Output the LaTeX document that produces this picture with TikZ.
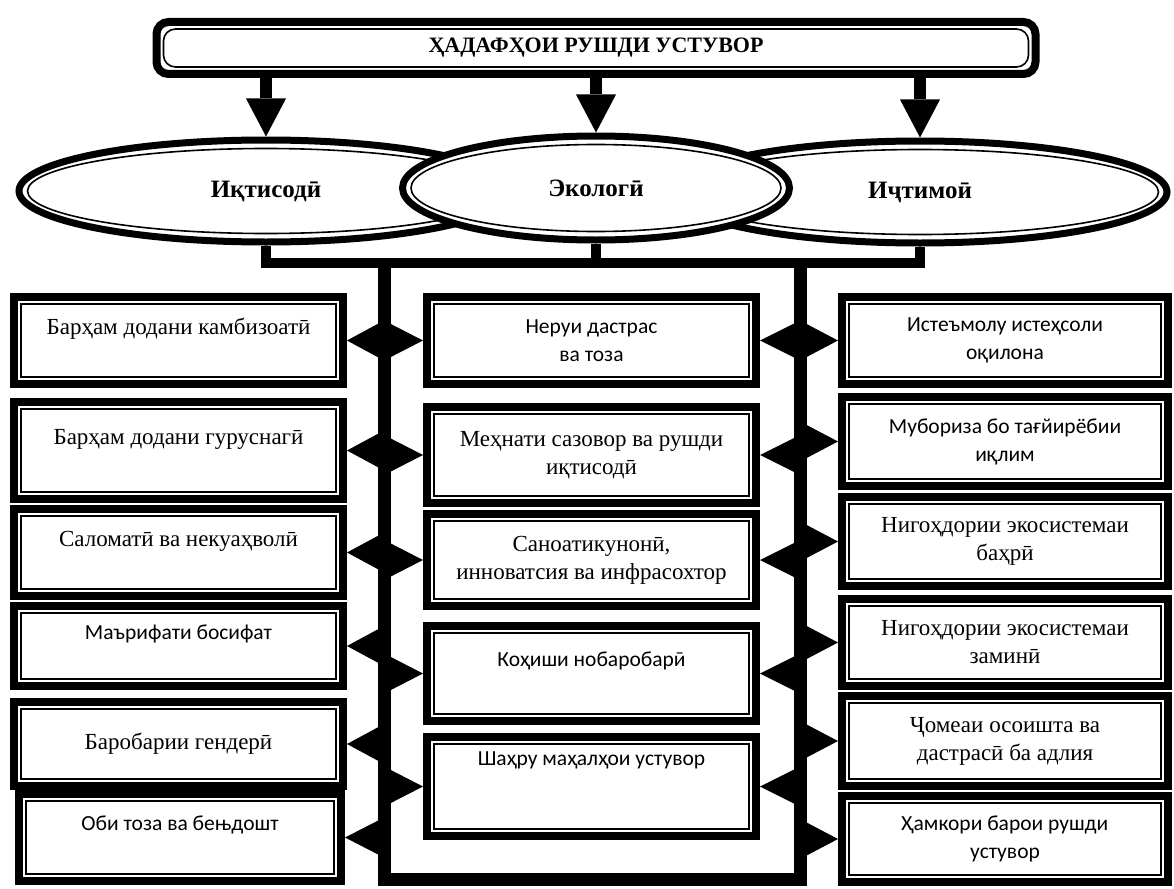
\documentclass[tikz,border=0pt]{standalone}
\usepackage{fontspec}
\setmainfont{Liberation Serif}
\newfontfamily\calib{Carlito}
\usetikzlibrary{shapes.geometric,arrows.meta,calc}

\tikzset{
  goal/.style={draw, line width=8pt, fill=white, align=center, inner sep=2pt,
    font=\fontsize{23}{28}\selectfont,
    path picture={\draw[line width=1.6pt] ([shift={(7pt,7pt)}]path picture bounding box.south west) rectangle ([shift={(-7pt,-7pt)}]path picture bounding box.north east);}},
  lcol/.style={goal, minimum width=329},
  mcol/.style={goal, minimum width=329},
  rcol/.style={goal, minimum width=326},
  sans/.style={font=\calib\fontsize{21.5}{28}\selectfont},
  oval/.style 2 args={ellipse, draw, line width=7pt, fill=white, minimum width=#1, minimum height=#2, inner sep=0pt,
    font=\bfseries\fontsize{25}{30}\selectfont,
    path picture={\draw[line width=1.6pt] (path picture bounding box.center) ellipse [x radius=#1/2-8.5, y radius=#2/2-8.5];}},
  feed/.style={line width=12pt, -{Triangle[length=38pt,width=40pt,line width=0pt]}},
  wire/.style={line width=10pt},
  trunk/.style={line width=13pt},
}

\begin{document}
\begin{tikzpicture}[x=1pt, y=-1pt]
  \useasboundingbox (0,0) rectangle (1174,888);

  % title
  \node [goal, rounded corners=12pt, minimum width=879, minimum height=52, font=\bfseries\fontsize{22}{26}\selectfont] (top) at (596,48) {ҲАДАФҲОИ РУШДИ УСТУВОР};

  % three dimensions
  \node [oval={494}{102}] (ik) at (266,191) {Иқтисодӣ};
  \node [oval={494}{102}] (ic) at (920,192) {Иҷтимоӣ};
  \node [oval={387}{104}] (ek) at (596,188) {Экологӣ};

  \foreach \e in {ik,ek,ic}
    \draw [feed] (top.south -| \e.north) -- (\e.north);

  % bus and trunks
  \coordinate (busl) at (266,263);
  \coordinate (busr) at (920,263);
  \draw [wire] (ik.south) -- (busl) -- (busr) -- (ic.south);
  \draw [wire] (ek.south) -- (ek.south |- busl);

  \coordinate (trl) at (384,263);
  \coordinate (trr) at (800,263);
  \coordinate (botl) at (384,879);
  \coordinate (botr) at (800,879);
  \draw [trunk] (trl) -- (botl) -- (botr) -- (trr);

  % left column
  \node [lcol, minimum height=87] (l1) at (178.5,340.5) {Барҳам додани камбизоатӣ\\\mbox{}};
  \node [lcol, minimum height=97] (l2) at (178.5,450.5) {Барҳам додани гуруснагӣ\\\mbox{}};
  \node [lcol, minimum height=87] (l3) at (178.5,552.5) {Саломатӣ ва некуаҳволӣ\\\mbox{}};
  \node [lcol, sans, minimum height=80] (l4) at (178.5,646) {Маърифати босифат\\\mbox{}};
  \node [lcol, minimum height=84] (l5) at (178.5,744) {Баробарии гендерӣ};
  \node [lcol, sans, minimum width=322, minimum height=87] (l6) at (180,837.5) {Оби тоза ва бењдошт\\\mbox{}};

  % middle column
  \node [mcol, sans, minimum height=87] (m1) at (591.5,340.5) {Неруи дастрас\\ва тоза};
  \node [mcol, minimum height=96] (m2) at (591.5,455) {Меҳнати сазовор ва рушди\\иқтисодӣ};
  \node [mcol, minimum height=92] (m3) at (591.5,560) {Саноатикунонӣ,\\инноватсия ва инфрасохтор};
  \node [mcol, sans, minimum height=95] (m4) at (591.5,673.5) {Коҳиши нобаробарӣ\\\mbox{}};
  \node [mcol, sans, minimum height=99] (m5) at (591.5,786.5) {Шаҳру маҳалҳои устувор\\\mbox{}\\\mbox{}};

  % right column
  \node [rcol, sans, minimum height=87] (r1) at (1005,340.5) {Истеъмолу истеҳсоли\\оқилона};
  \node [rcol, sans, minimum height=89] (r2) at (1005,441.5) {Мубориза бо тағйирёбии\\иқлим};
  \node [rcol, minimum height=89] (r3) at (1005,541.5) {Нигоҳдории экосистемаи\\баҳрӣ};
  \node [rcol, minimum height=87] (r4) at (1005,642.5) {Нигоҳдории экосистемаи\\заминӣ};
  \node [rcol, minimum height=90] (r5) at (1005,741) {Ҷомеаи осоишта ва\\дастрасӣ ба адлия};
  \node [rcol, sans, minimum height=86] (r6) at (1005,839) {Ҳамкори барои рушди\\устувор};

  % pointers from the trunks
  \foreach \b in {l1,l2,l3,l4,l5,l6}
    \fill (\b.east) -- ($(\b.east -| trl)+(0,-20)$) -- ($(\b.east -| trl)+(0,20)$) -- cycle;
  \foreach \b in {m1,m2,m3,m4,m5} {
    \fill (\b.west) -- ($(\b.west -| trl)+(0,-20)$) -- ($(\b.west -| trl)+(0,20)$) -- cycle;
    \fill (\b.east) -- ($(\b.east -| trr)+(0,-20)$) -- ($(\b.east -| trr)+(0,20)$) -- cycle;
  }
  \foreach \b in {r1,r2,r3,r4,r5,r6}
    \fill (\b.west) -- ($(\b.west -| trr)+(0,-20)$) -- ($(\b.west -| trr)+(0,20)$) -- cycle;
\end{tikzpicture}
\end{document}
